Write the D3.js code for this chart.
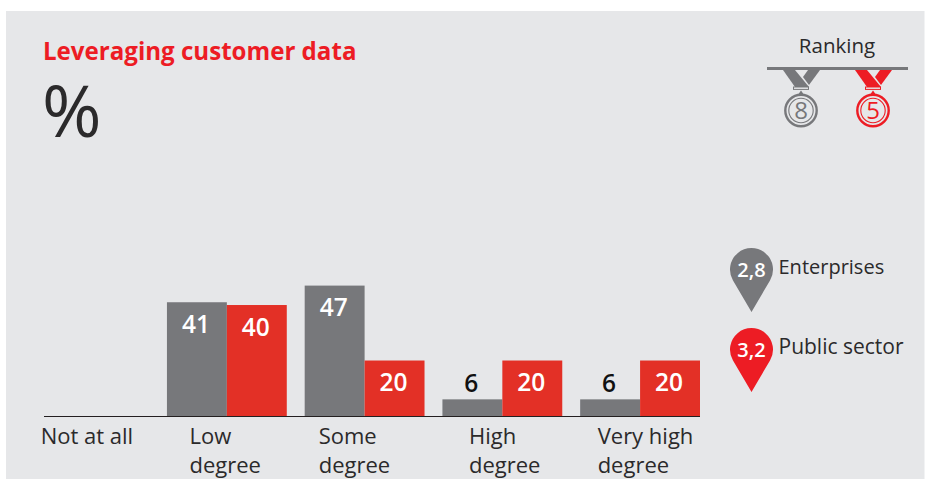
<!DOCTYPE html>
<html><head><meta charset="utf-8">
<script src="https://cdn.jsdelivr.net/npm/d3@7/dist/d3.min.js"></script>
<style>html,body{margin:0;padding:0;background:#fff}svg{display:block}text{font-family:"Open Sans","Noto Sans",sans-serif}</style>
</head><body><svg id="c" width="925" height="479"></svg>
<script>
const categories = [["Not at all"],["Low","degree"],["Some","degree"],["High","degree"],["Very high","degree"]];
const enterprises = [null,41,47,6,6];
const publicSector = [null,40,20,20,20];
const legendNames = ["Enterprises","Public sector"];
const legendScores = ["2,8","3,2"];
const ranks = ["8","5"];

const GRAY="#77787b", BAR_RED="#e33026", RED="#ed1c24", DARK="#2b2a2b", BG="#e6e7e9";
const svg=d3.select("#c");
svg.append("rect").attr("x",6).attr("y",11).attr("width",918.5).attr("height",468).attr("fill",BG);

const base=416;
const x=d3.scaleBand().domain(d3.range(categories.length)).range([29.2,700]).paddingInner(0.13).paddingOuter(0);
const y=d3.scaleLinear().domain([0,47]).range([base,285.6]);
const labelDx=[12,23,14.5,27,18];
const legendFont=[20,21];

svg.append("text").attr("x",43).attr("y",60).attr("fill",RED).attr("font-size",24.1).attr("font-weight",700).text("Leveraging customer data");
svg.append("text").attr("x",42).attr("y",137).attr("fill",DARK).attr("font-size",72).attr("font-weight",400).text("%");

[[enterprises,GRAY,0],[publicSector,BAR_RED,1]].forEach(([vals,col,k])=>{
  const w=x.bandwidth()/2;
  vals.forEach((v,i)=>{
    if(v===null)return;
    const bx=x(i)+k*w;
    svg.append("rect").attr("x",bx).attr("y",y(v)).attr("width",w).attr("height",base-y(v)).attr("fill",col);
    const small=y(v)>base-30;
    svg.append("text").attr("x",bx+w/2-1).attr("y",small?y(v)-7:y(v)+30.5)
      .attr("text-anchor","middle").attr("font-size",24.5).attr("font-weight",600)
      .attr("fill",small?"#111":"#fff").text(v);
  });
});
svg.append("line").attr("x1",44).attr("x2",700).attr("y1",base+0.5).attr("y2",base+0.5).attr("stroke","#231f20").attr("stroke-width",1);

categories.forEach((lines,i)=>{
  const t=svg.append("text").attr("fill",DARK).attr("font-size",22);
  lines.forEach((s,j)=>t.append("tspan").attr("x",x(i)+labelDx[i]-0.5).attr("y",444+j*28.5).text(s));
});

// Ranking
svg.append("text").attr("x",837).attr("y",53).attr("text-anchor","middle").attr("fill",DARK).attr("font-size",20.5).text("Ranking");
svg.append("rect").attr("x",767).attr("y",67).attr("width",141).attr("height",3).attr("fill",GRAY);
[[801,GRAY],[873,RED]].forEach(([cx,col],i)=>{
  const g=svg.append("g").attr("transform",`translate(${cx},0)`);
  g.append("path").attr("fill",col).attr("d","M-18,70 L-6,70 L8,87 L-6,87 Z");
  g.append("path").attr("fill",col).attr("d","M7,70 L19,70 L8,85 L2,77 Z");
  g.append("rect").attr("x",-7.5).attr("y",87).attr("width",15).attr("height",2.4).attr("fill","none").attr("stroke",col).attr("stroke-width",1);
  g.append("path").attr("fill",col).attr("d","M-3.5,95.5 L0,90.5 L3.5,95.5 Z");
  g.append("circle").attr("cy",110.5).attr("r",15.7).attr("fill","none").attr("stroke",col).attr("stroke-width",2.4);
  g.append("circle").attr("cy",110.5).attr("r",12.2).attr("fill","none").attr("stroke",col).attr("stroke-width",1.1);
  g.append("text").attr("y",119).attr("text-anchor","middle").attr("fill",col).attr("font-size",24).attr("font-weight",400).text(ranks[i]);
});

// Legend pins
[[272,GRAY],[352,RED]].forEach(([cy,col],i)=>{
  const g=svg.append("g").attr("transform",`translate(751.5,${cy-1})`);
  g.append("path").attr("fill",col).attr("d","M0,41 L18.5,9.5 A21.5,21.5 0 1 0 -18.5,9.5 Z");
  g.append("text").attr("y",6).attr("text-anchor","middle").attr("fill","#fff").attr("font-size",20).attr("font-weight",600).text(legendScores[i]);
  svg.append("text").attr("x",778.5).attr("y",cy+2).attr("fill",DARK).attr("font-size",legendFont[i]).text(legendNames[i]);
});
</script></body></html>
